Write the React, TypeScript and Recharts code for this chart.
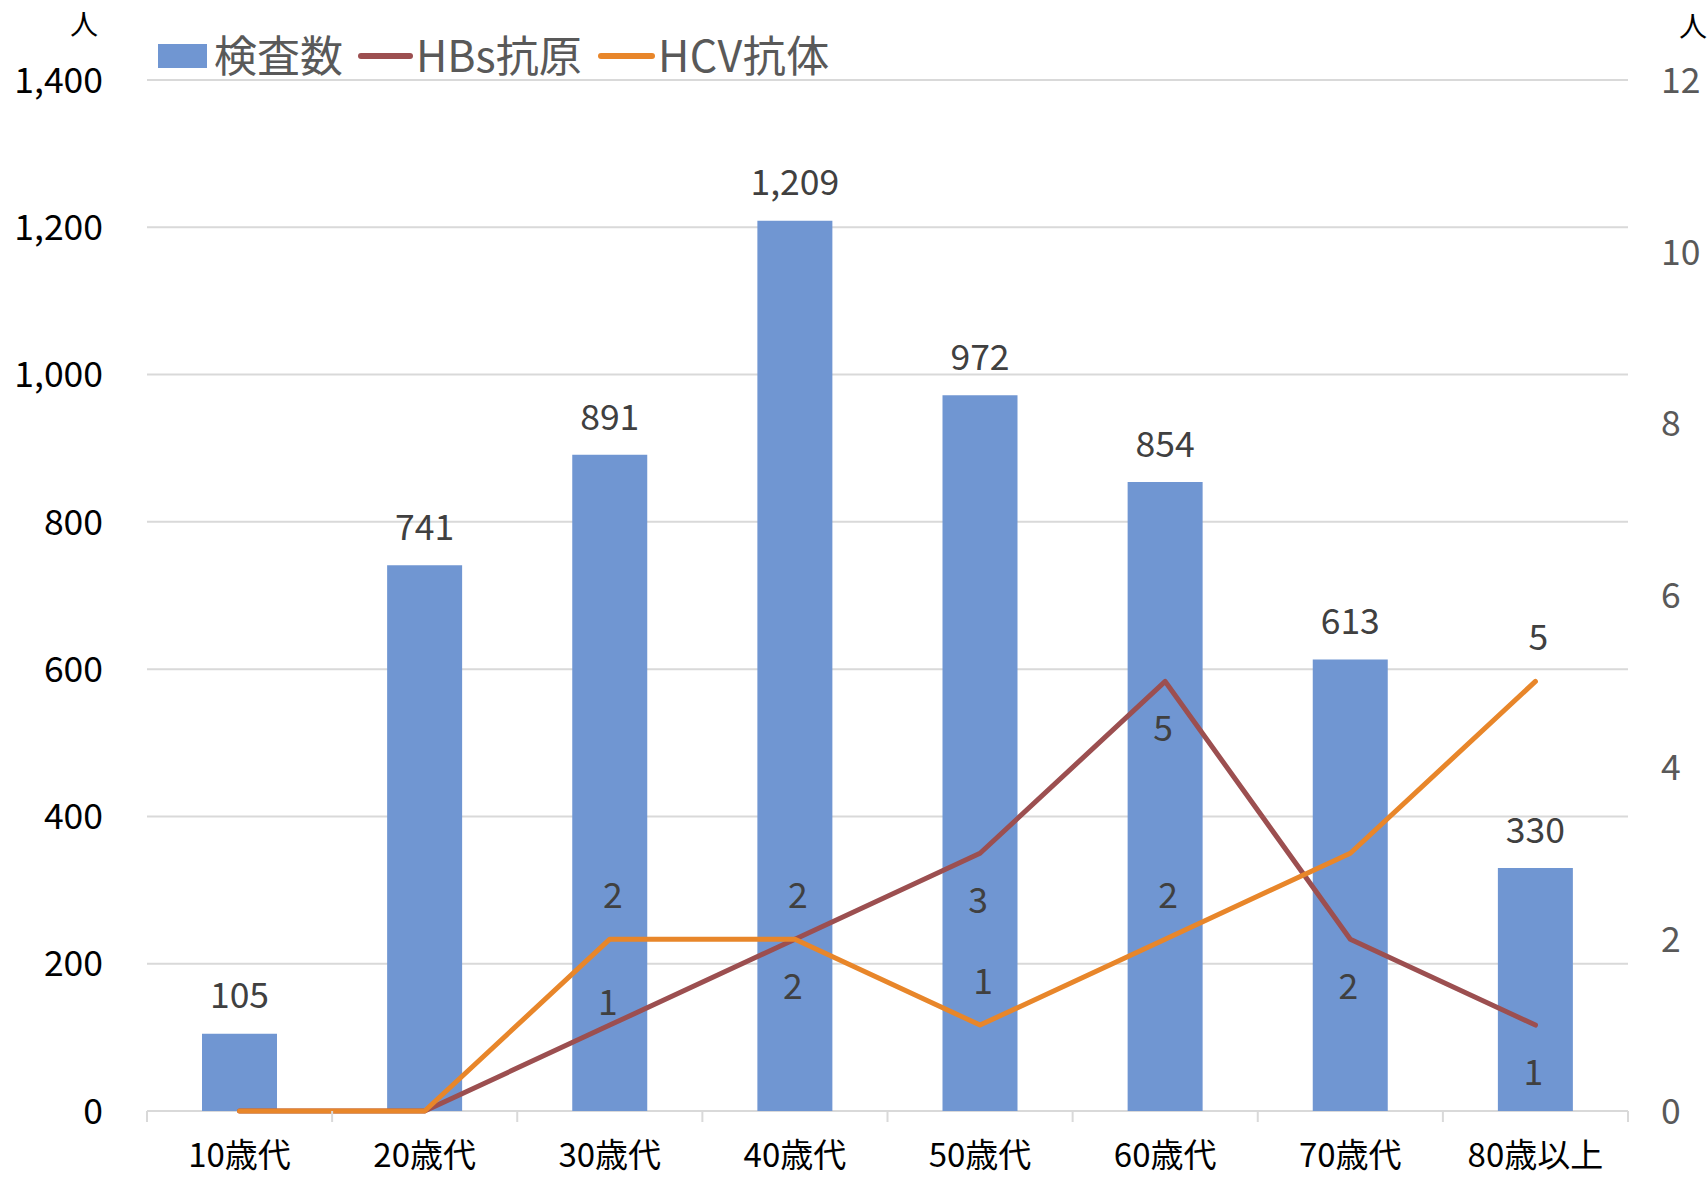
import React from "react";
import {
  ComposedChart,
  Bar,
  Line,
  XAxis,
  YAxis,
  CartesianGrid,
  LabelList,
} from "recharts";

const categories = ["10歳代", "20歳代", "30歳代", "40歳代", "50歳代", "60歳代", "70歳代", "80歳以上"];
const testCounts = [105, 741, 891, 1209, 972, 854, 613, 330];
const hbsAntigen = [0, 0, 1, 2, 3, 5, 2, 1];
const hcvAntibody = [0, 0, 2, 2, 1, 2, 3, 5];
const leftTicks = [0, 200, 400, 600, 800, 1000, 1200, 1400];
const rightTicks = [0, 2, 4, 6, 8, 10, 12];
const seriesNames = ["検査数", "HBs抗原", "HCV抗体"];
const unitLabel = "人";

const data = categories.map((c, i) => ({
  name: c,
  count: testCounts[i],
  hbs: hbsAntigen[i],
  hcv: hcvAntibody[i],
}));

const W = 1708;
const H = 1178;
const PLOT_LEFT = 147;
const PLOT_RIGHT = 1628;
const PLOT_TOP = 80;
const PLOT_BOTTOM = 1111;
const BAND = (PLOT_RIGHT - PLOT_LEFT) / categories.length;

const FONT = '"Noto Sans CJK JP", "Noto Sans", sans-serif';
const BAR_COLOR = "#7096D2";
const HBS_COLOR = "#9C4F50";
const HCV_COLOR = "#E8862A";
const GRID = "#D9D9D9";
const LABEL_COLOR = "#404040";
const AXIS_GRAY = "#595959";
const NUM_FS = 35.5;
const CAT_FS = 33;

const LeftTick = (props: any) => {
  const { y, payload } = props;
  return (
    <text x={103} y={y} dy="0.36em" textAnchor="end" fill="#000" fontSize={NUM_FS} fontFamily={FONT}>
      {Number(payload.value).toLocaleString("en-US")}
    </text>
  );
};

const RightTick = (props: any) => {
  const { y, payload } = props;
  return (
    <text x={1661} y={y} dy="0.36em" textAnchor="start" fill={AXIS_GRAY} fontSize={NUM_FS} fontFamily={FONT}>
      {payload.value}
    </text>
  );
};

const XTick = (props: any) => {
  const { x, payload, index } = props;
  const isLast = index === categories.length - 1;
  return (
    <g>
      <line x1={x - BAND / 2} x2={x - BAND / 2} y1={PLOT_BOTTOM} y2={PLOT_BOTTOM + 11} stroke={GRID} strokeWidth={2} />
      {isLast && (
        <line x1={x + BAND / 2} x2={x + BAND / 2} y1={PLOT_BOTTOM} y2={PLOT_BOTTOM + 11} stroke={GRID} strokeWidth={2} />
      )}
      <text x={x} y={PLOT_BOTTOM + 44} dy="0.36em" textAnchor="middle" fill="#000" fontSize={CAT_FS} fontFamily={FONT}>
        {payload.value}
      </text>
    </g>
  );
};

const BarLabel = (props: any) => {
  const { x, y, width, value } = props;
  if (!value) return null;
  return (
    <text x={x + width / 2} y={y - 38} dy="0.36em" textAnchor="middle" fill={LABEL_COLOR} fontSize={NUM_FS} fontFamily={FONT}>
      {Number(value).toLocaleString("en-US")}
    </text>
  );
};

const HbsLabel = (props: any) => {
  const { x, y, value, index } = props;
  if (!value) return null;
  const off = index === 2 ? -23 : 47;
  return (
    <text x={x - 2} y={y + off} dy="0.36em" textAnchor="middle" fill={LABEL_COLOR} fontSize={NUM_FS} fontFamily={FONT}>
      {value}
    </text>
  );
};

const HcvLabel = (props: any) => {
  const { x, y, value, index } = props;
  if (!value || index === 6) return null;
  return (
    <text x={x + 3} y={y - 44} dy="0.36em" textAnchor="middle" fill={LABEL_COLOR} fontSize={NUM_FS} fontFamily={FONT}>
      {value}
    </text>
  );
};

const BackLayer = () => (
  <svg width={W} height={H} style={{ position: "absolute", left: 0, top: 0 }}>
    <line x1={PLOT_LEFT} x2={PLOT_RIGHT} y1={PLOT_BOTTOM} y2={PLOT_BOTTOM} stroke={GRID} strokeWidth={2} />
  </svg>
);

const LegendOverlay = () => (
  <svg width={W} height={110} style={{ position: "absolute", left: 0, top: 0, pointerEvents: "none" }}>
    <text x={84} y={25} dy="0.36em" textAnchor="middle" fill="#000" fontSize={28} fontFamily={FONT}>
      {unitLabel}
    </text>
    <text x={1693} y={27} dy="0.36em" textAnchor="middle" fill="#000" fontSize={28} fontFamily={FONT}>
      {unitLabel}
    </text>
    <rect x={158} y={44} width={49} height={24} fill={BAR_COLOR} />
    <text x={214} y={57} dy="0.36em" fill={AXIS_GRAY} fontSize={43} fontFamily={FONT}>
      {seriesNames[0]}
    </text>
    <line x1={361} x2={410} y1={56} y2={56} stroke={HBS_COLOR} strokeWidth={6} strokeLinecap="round" />
    <text x={416} y={57} dy="0.36em" fill={AXIS_GRAY} fontSize={43} fontFamily={FONT}>
      {seriesNames[1]}
    </text>
    <line x1={601} x2={652} y1={56} y2={56} stroke={HCV_COLOR} strokeWidth={6} strokeLinecap="round" />
    <text x={658} y={57} dy="0.36em" fill={AXIS_GRAY} fontSize={43} fontFamily={FONT} letterSpacing={0.5}>
      {seriesNames[2]}
    </text>
  </svg>
);

export default function App() {
  return (
    <div style={{ position: "absolute", left: 0, top: 0, width: W, height: H, background: "#fff" }}>
      <style>{`.recharts-wrapper g[clip-path], .recharts-wrapper path[clip-path], .recharts-line, .recharts-line-curve { clip-path: none !important; }`}</style>
      <BackLayer />
      <div style={{ position: "absolute", left: 0, top: 0 }}>
        <ComposedChart
          width={W}
          height={H}
          data={data}
          margin={{ top: PLOT_TOP, right: 0, bottom: 0, left: 0 }}
        >
          <CartesianGrid yAxisId="left" vertical={false} stroke={GRID} strokeWidth={2} />
          <XAxis
            dataKey="name"
            height={H - PLOT_BOTTOM}
            axisLine={false}
            tickLine={false}
            tick={<XTick />}
            interval={0}
          />
          <YAxis
            yAxisId="left"
            orientation="left"
            width={PLOT_LEFT}
            domain={[0, 1400]}
            ticks={leftTicks}
            axisLine={false}
            tickLine={false}
            tick={<LeftTick />}
            interval={0}
          />
          <YAxis
            yAxisId="right"
            orientation="right"
            width={W - PLOT_RIGHT}
            domain={[0, 12]}
            ticks={rightTicks}
            axisLine={false}
            tickLine={false}
            tick={<RightTick />}
            interval={0}
          />
          <Bar yAxisId="left" dataKey="count" fill={BAR_COLOR} barSize={75} isAnimationActive={false}>
            <LabelList dataKey="count" content={<BarLabel />} />
          </Bar>
          <Line
            yAxisId="right"
            type="linear"
            dataKey="hbs"
            stroke={HBS_COLOR}
            strokeWidth={5}
            strokeLinecap="round"
            strokeLinejoin="round"
            dot={false}
            activeDot={false}
            isAnimationActive={false}
          >
            <LabelList dataKey="hbs" content={<HbsLabel />} />
          </Line>
          <Line
            yAxisId="right"
            type="linear"
            dataKey="hcv"
            stroke={HCV_COLOR}
            strokeWidth={5}
            strokeLinecap="round"
            strokeLinejoin="round"
            dot={false}
            activeDot={false}
            isAnimationActive={false}
          >
            <LabelList dataKey="hcv" content={<HcvLabel />} />
          </Line>
        </ComposedChart>
      </div>
      <LegendOverlay />
    </div>
  );
}
